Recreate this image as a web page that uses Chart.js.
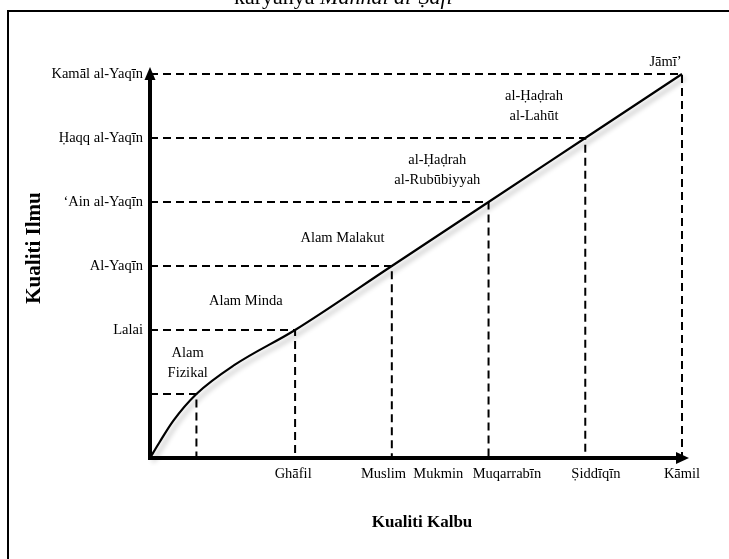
<!DOCTYPE html>
<html><head><meta charset="utf-8">
<script src="https://cdn.jsdelivr.net/npm/chart.js@4.4.1/dist/chart.umd.min.js"></script>
<style>html,body{margin:0;padding:0;background:#fff;}canvas{display:block;}</style>
</head><body>
<canvas id="c" width="729" height="559"></canvas>
<script>
// ---- texts ----
const pageTitleUpright = 'karyanya ';
const pageTitleItalic = 'Manhal al-Ṣafī';
const xAxisTitle = 'Kualiti Kalbu';
const yAxisTitle = 'Kualiti Ilmu';

// ---- axis ticks (label positions on the axes) ----
const xTickValues = [1.48, 2.71, 3.69, 4.61, 5.5];
const xTickLabels = ['Ghāfil', 'Muslim  Mukmin', 'Muqarrabīn', 'Ṣiddīqīn', 'Kāmil'];
const yTickValues = [2, 3, 4, 5, 6];
const yTickLabels = ['Lalai', 'Al-Yaqīn', '‘Ain al-Yaqīn', 'Ḥaqq al-Yaqīn', 'Kamāl al-Yaqīn'];

// ---- level points (dashed guides) ----
const levelX = [0.48, 1.5, 2.5, 3.5, 4.5, 5.5];
const levelY = [1, 2, 3, 4, 5, 6];

// ---- growth curve ----
const curveX = [0, 0.1, 0.24, 0.48, 0.87, 1.5, 2.5, 3.5, 4.5, 5.5];
const curveY = [0, 0.25, 0.58, 1.0, 1.45, 2.0, 3, 4, 5, 6];

// ---- region names ----
const regionNames = [['Alam', 'Fizikal'], ['Alam Minda'], ['Alam Malakut'], ['al-Ḥaḍrah', 'al-Rubūbiyyah'], ['al-Ḥaḍrah', 'al-Lahūt'], ['Jāmī’']];
const regionX = [0.39, 0.99, 1.99, 2.97, 3.97, 5.33];
const regionY = [1.48, 2.45, 3.44, 4.5, 5.5, 6.19];

const SERIF = "'Liberation Serif', 'Times New Roman', serif";

const guideSets = levelX.map((x, i) => ({
  label: 'guide',
  data: [{x: 0, y: levelY[i]}, {x: x, y: levelY[i]}, {x: x, y: 0}],
  showLine: true, borderColor: '#000', borderWidth: 2, borderDash: [8, 5],
  pointRadius: 0, tension: 0, fill: false, clip: 8
}));

const curveSet = {
  label: 'curve',
  data: curveX.map((x, i) => ({x: x, y: curveY[i]})),
  showLine: true, borderColor: '#000', borderWidth: 2.2,
  pointRadius: 0, cubicInterpolationMode: 'monotone', fill: false, clip: 8
};

const decor = {
  id: 'decor',
  beforeDraw(chart) {
    const ctx = chart.ctx;
    ctx.save(); ctx.fillStyle = '#fff'; ctx.fillRect(0, 0, chart.width, chart.height); ctx.restore();
  },
  beforeDatasetDraw(chart, args) {
    if (chart.data.datasets[args.index].label === 'curve') {
      const ctx = chart.ctx;
      ctx.save();
      ctx.shadowColor = 'rgba(0,0,0,0.3)';
      ctx.shadowOffsetX = 3; ctx.shadowOffsetY = 4; ctx.shadowBlur = 5;
    }
  },
  afterDatasetDraw(chart, args) {
    if (chart.data.datasets[args.index].label === 'curve') chart.ctx.restore();
  },
  afterDraw(chart) {
    const ctx = chart.ctx, a = chart.chartArea;
    const xs = chart.scales.x, ys = chart.scales.y;
    ctx.save();
    // frame
    ctx.strokeStyle = '#000'; ctx.lineWidth = 2;
    ctx.beginPath(); ctx.moveTo(7, 11); ctx.lineTo(chart.width, 11); ctx.stroke();
    ctx.beginPath(); ctx.moveTo(8, 10); ctx.lineTo(8, chart.height); ctx.stroke();
    // arrows
    ctx.fillStyle = '#000';
    ctx.beginPath(); ctx.moveTo(a.left, a.top - 7); ctx.lineTo(a.left - 5.5, a.top + 6); ctx.lineTo(a.left + 5.5, a.top + 6); ctx.closePath(); ctx.fill();
    ctx.beginPath(); ctx.moveTo(a.right + 7, a.bottom); ctx.lineTo(a.right - 6, a.bottom - 6); ctx.lineTo(a.right - 6, a.bottom + 6); ctx.closePath(); ctx.fill();
    // page title (cut off at top)
    ctx.textBaseline = 'alphabetic'; ctx.textAlign = 'left';
    ctx.font = '22px ' + SERIF;
    ctx.fillText(pageTitleUpright, 234, 4);
    const w = ctx.measureText(pageTitleUpright).width;
    ctx.font = 'italic 22px ' + SERIF;
    ctx.fillText(pageTitleItalic, 234 + w, 4);
    // axis titles
    ctx.textAlign = 'center'; ctx.textBaseline = 'middle';
    ctx.font = 'bold 17px ' + SERIF;
    ctx.fillText(xAxisTitle, 422, 523);
    ctx.save();
    ctx.translate(35, 248); ctx.rotate(-Math.PI / 2);
    ctx.font = 'bold 21px ' + SERIF;
    ctx.fillText(yAxisTitle, 0, 0);
    ctx.restore();
    // region labels
    ctx.font = '14.5px ' + SERIF;
    regionNames.forEach((lines, i) => {
      const cx = xs.getPixelForValue(regionX[i]);
      const cy = ys.getPixelForValue(regionY[i]);
      const lh = 20;
      lines.forEach((t, j) => {
        ctx.fillText(t, cx, cy + (j - (lines.length - 1) / 2) * lh);
      });
    });
    ctx.restore();
  }
};

new Chart(document.getElementById('c'), {
  type: 'scatter',
  data: { datasets: [...guideSets, curveSet] },
  plugins: [decor],
  options: {
    responsive: false, animation: false, devicePixelRatio: 1,
    layout: { padding: { left: 0, right: 47, top: 74, bottom: 0 } },
    plugins: { legend: { display: false }, tooltip: { enabled: false } },
    scales: {
      x: {
        type: 'linear', min: 0, max: 5.5,
        afterBuildTicks: (s) => { s.ticks = xTickValues.map(v => ({value: v})); },
        afterFit: (s) => { s.height = 101; },
        ticks: {
          autoSkip: false, maxRotation: 0, padding: 7, color: '#000',
          font: { family: SERIF, size: 14.5 },
          callback: (v) => xTickLabels[xTickValues.indexOf(v)]
        },
        grid: { display: false, drawTicks: false },
        border: { display: true, width: 4, color: '#000' }
      },
      y: {
        type: 'linear', min: 0, max: 6,
        afterBuildTicks: (s) => { s.ticks = yTickValues.map(v => ({value: v})); },
        afterFit: (s) => { s.width = 150; },
        ticks: {
          autoSkip: false, padding: 7, color: '#000',
          font: { family: SERIF, size: 14.5 },
          callback: (v) => yTickLabels[yTickValues.indexOf(v)]
        },
        grid: { display: false, drawTicks: false },
        border: { display: true, width: 4, color: '#000' }
      }
    }
  }
});
</script>
</body></html>
